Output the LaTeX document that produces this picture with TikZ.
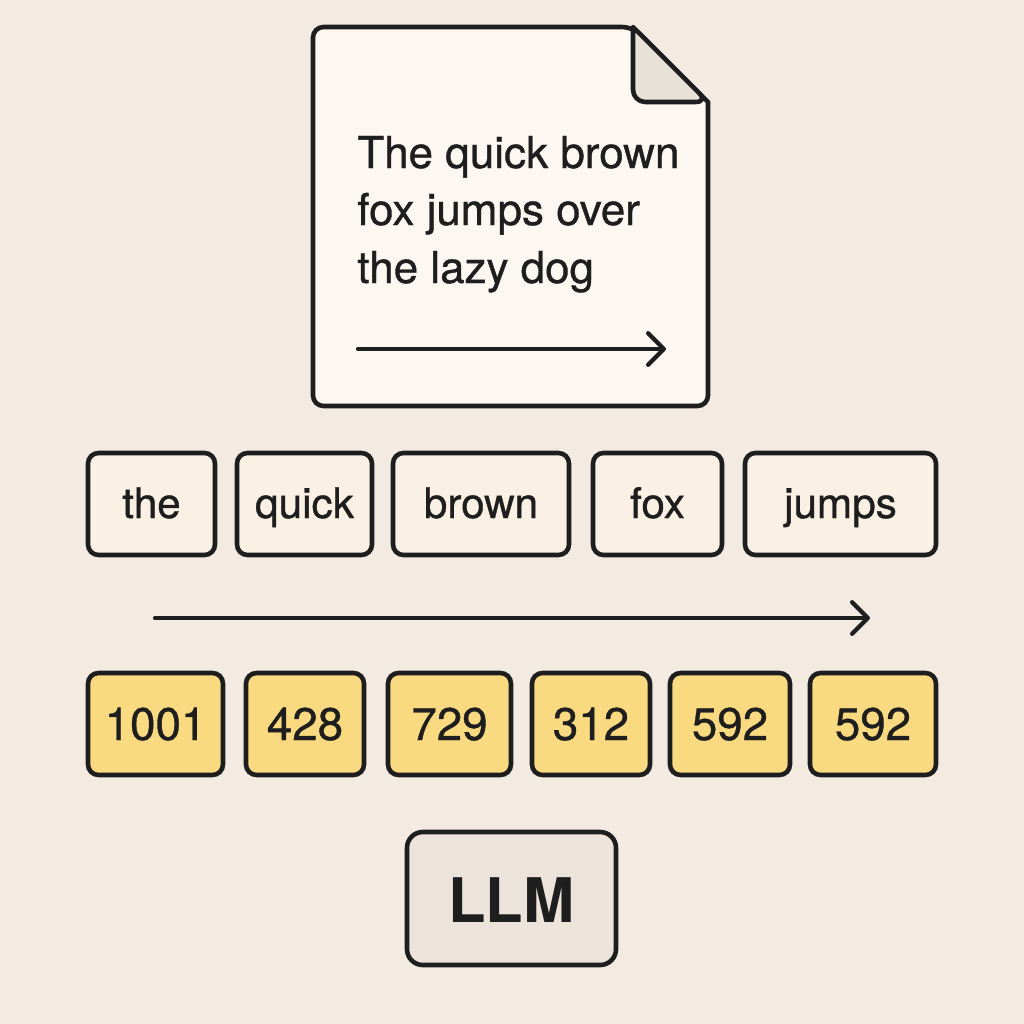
\documentclass[tikz,border=0pt]{standalone}
\usepackage{fontspec}
\setmainfont{TeX Gyre Heros}
\newfontfamily\medfont{TeX Gyre Heros}[FakeBold=0.8]
\usetikzlibrary{arrows.meta}

\definecolor{paper}{HTML}{F3EBE2}
\definecolor{ink}{HTML}{1E1E1E}
\definecolor{docfill}{HTML}{FCF7F1}
\definecolor{foldfill}{HTML}{E8E1D8}
\definecolor{wordfill}{HTML}{FAF0E3}
\definecolor{idfill}{HTML}{F9DA80}
\definecolor{llmfill}{HTML}{ECE4DB}

\tikzset{
  box/.style={draw=ink, line width=2.6pt, rounded corners=6pt},
  wordbox/.style={box, fill=wordfill},
  idbox/.style={box, fill=idfill},
  llmbox/.style={box, fill=llmfill, rounded corners=9pt},
  doctext/.style={anchor=base west, inner sep=0pt, text=ink, font=\medfont\fontsize{25}{30}\selectfont},
  wordtext/.style={anchor=base, inner sep=0pt, text=ink, font=\medfont\fontsize{24}{28}\selectfont},
  idtext/.style={anchor=base, inner sep=0pt, text=ink, font=\medfont\fontsize{26}{30}\selectfont},
  llmtext/.style={anchor=base, inner sep=0pt, text=ink, font=\fontsize{35}{40}\selectfont\bfseries},
  flow/.style={draw=ink, line width=2.4pt, line cap=round,
    -{Straight Barb[round, length=9pt, width=18pt]}}
}

\begin{document}
\begin{tikzpicture}[x=0.02cm, y=-0.02cm]
  \fill[paper] (0,0) rectangle (1024,1024);
  \useasboundingbox (0,0) rectangle (1024,1024);

  % the document
  \draw[box, fill=docfill] (313,406) -- (313,27) -- (633,27) [sharp corners] -- (708,102)
    [rounded corners=6pt] -- (708,406) -- cycle;
  \draw[draw=ink, line width=2.6pt, line join=round, fill=foldfill]
    (633,27) [rounded corners=7pt] -- (633,102) -- (708,102) [sharp corners] -- cycle;
  \node[doctext] (line1) at (357,168) {The quick brown};
  \node[doctext] (line2) at (357,225) {fox jumps over};
  \node[doctext] (line3) at (357,283) {the lazy dog};
  \coordinate (docstart) at (358,349);
  \coordinate (docend) at (666,349);
  \draw[flow] (docstart) -- (docend);

  % words
  \draw[wordbox] (88,453) rectangle (215,555);
  \node[wordtext] (the) at (151.5,518) {the};

  \draw[wordbox] (237,453) rectangle (372,555);
  \node[wordtext] (quick) at (304.5,518) {quick};

  \draw[wordbox] (393,453) rectangle (569,555);
  \node[wordtext] (brown) at (481,518) {brown};

  \draw[wordbox] (593,453) rectangle (722,555);
  \node[wordtext] (fox) at (657.5,518) {fox};

  \draw[wordbox] (745,453) rectangle (936,555);
  \node[wordtext] (jumps) at (840.5,518) {jumps};

  \coordinate (rowstart) at (155,618);
  \coordinate (rowend) at (870,618);
  \draw[flow] (rowstart) -- (rowend);

  % token ids
  \draw[idbox] (88,673) rectangle (223,775);
  \node[idtext] (id1) at (155.5,740) {1001};

  \draw[idbox] (246,673) rectangle (364,775);
  \node[idtext] (id2) at (305,740) {428};

  \draw[idbox] (388,673) rectangle (511,775);
  \node[idtext] (id3) at (449.5,740) {729};

  \draw[idbox] (532,673) rectangle (650,775);
  \node[idtext] (id4) at (591,740) {312};

  \draw[idbox] (670,673) rectangle (790,775);
  \node[idtext] (id5) at (730,740) {592};

  \draw[idbox] (810,673) rectangle (936,775);
  \node[idtext] (id6) at (873,740) {592};

  % model
  \draw[llmbox] (407,832) rectangle (616,965);
  \node[llmtext] (llm) at (511.5,922) {LLM};
\end{tikzpicture}
\end{document}
